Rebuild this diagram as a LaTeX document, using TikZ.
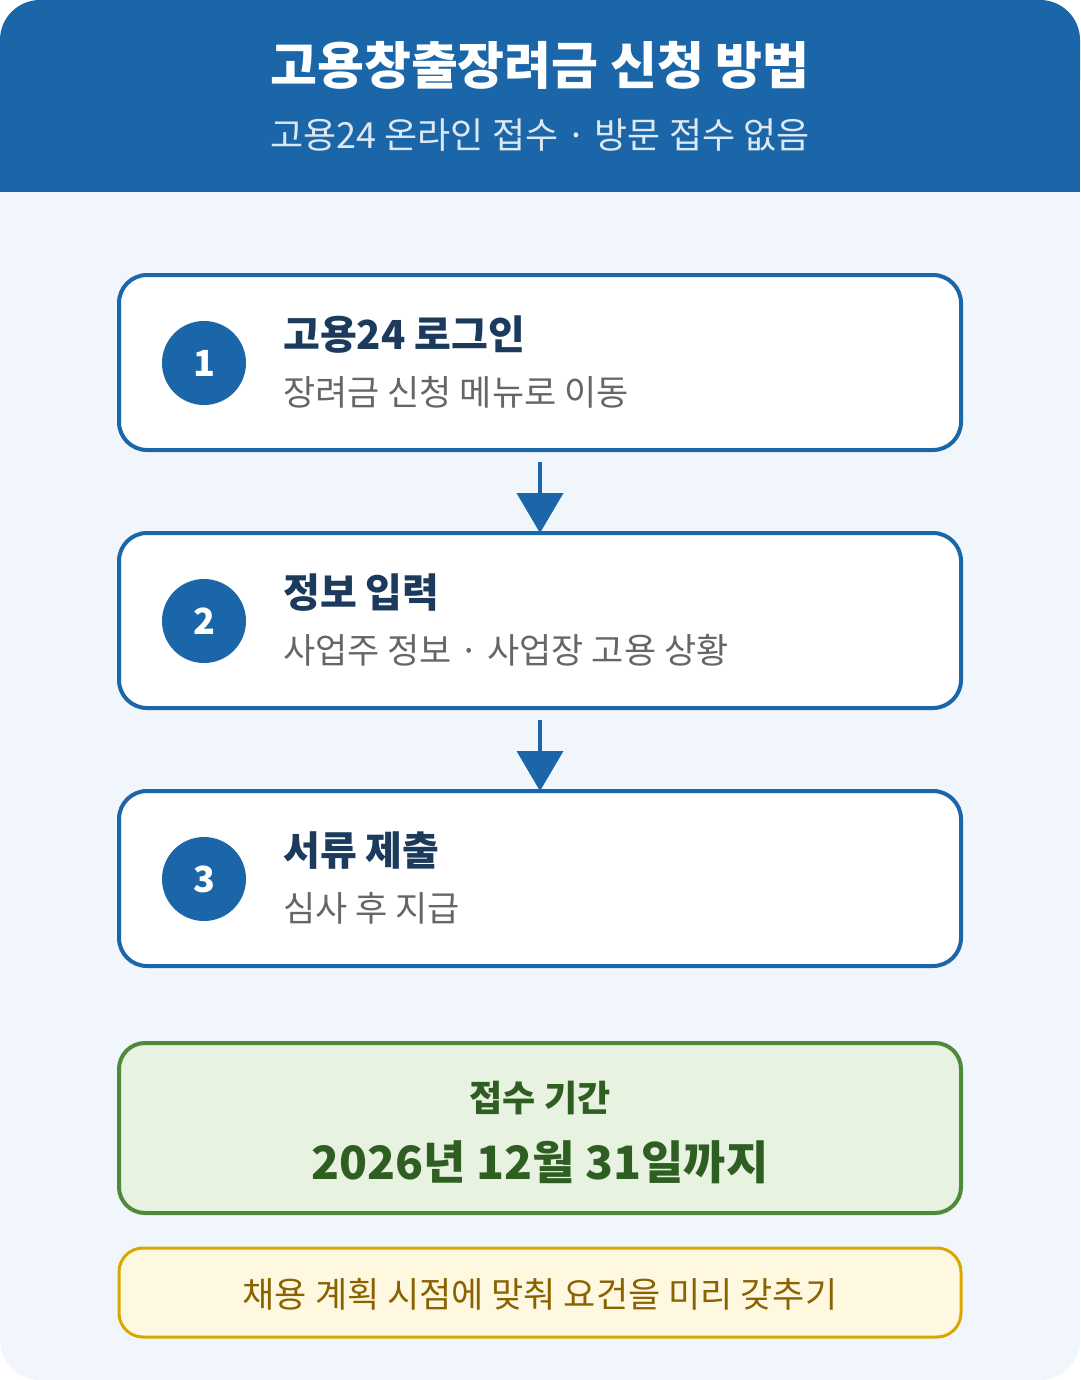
\documentclass[tikz,border=0pt]{standalone}
\usepackage{fontspec}
\setmainfont{Noto Sans CJK KR}
\usetikzlibrary{arrows.meta}
\definecolor{hdr}{HTML}{1A66A8}
\definecolor{bg}{HTML}{F0F6FC}
\definecolor{ttl}{HTML}{1B3A5C}
\definecolor{sub}{HTML}{666666}
\definecolor{gfill}{HTML}{E8F2E0}
\definecolor{gline}{HTML}{4E8A3A}
\definecolor{gtxt}{HTML}{2F5E22}
\definecolor{yfill}{HTML}{FFF8E1}
\definecolor{yline}{HTML}{D9A800}
\definecolor{ytxt}{HTML}{8A6200}
\begin{document}
\begin{tikzpicture}[x=1pt,y=-1pt,
  stepbox/.style={draw=hdr,line width=4pt,fill=white,rounded corners=28pt},
  num/.style={circle,fill=hdr,minimum size=84pt,inner sep=0pt,text=white,font=\fontsize{36}{40}\selectfont\bfseries},
  st/.style={anchor=west,text=ttl,font=\fontsize{40}{44}\selectfont\bfseries,inner sep=0pt},
  ss/.style={anchor=west,text=sub,font=\fontsize{35}{38}\selectfont,inner sep=0pt},
  arr/.style={draw=hdr,line width=4pt,-{Triangle[length=40pt,width=46pt]}}]
\useasboundingbox (0,0) rectangle (1080,1380);
\fill[bg,rounded corners=40pt] (0,0) rectangle (1080,1380);
\fill[hdr,rounded corners=40pt] (0,0) rectangle (1080,120);
\fill[hdr] (0,80) rectangle (1080,192);
\node[text=white,font=\fontsize{51}{56}\selectfont\bfseries] (t) at (540,65) {고용창출장려금 신청 방법};
\node[text=white!85!hdr,font=\fontsize{36}{40}\selectfont] (s) at (540,135) {고용24 온라인 접수 · 방문 접수 없음};
\foreach \i/\y/\a/\b in {1/275/고용24 로그인/장려금 신청 메뉴로 이동, 2/533/정보 입력/사업주 정보 · 사업장 고용 상황, 3/791/서류 제출/심사 후 지급}{
  \draw[stepbox] (119,\y) rectangle (961,\y+175);
  \node[num] (n\i) at (204,\y+88) {\i};
  \node[st] (a\i) at (283,\y+60) {\a};
  \node[ss] (b\i) at (283,\y+117) {\b};
}
\coordinate (p1) at (540,462); \coordinate (q1) at (540,533);
\coordinate (p2) at (540,720); \coordinate (q2) at (540,791);
\draw[arr] (p1) -- (q1);
\draw[arr] (p2) -- (q2);
\draw[fill=gfill,draw=gline,line width=4pt,rounded corners=26pt] (119,1043) rectangle (961,1213);
\node[text=gtxt,font=\fontsize{36}{40}\selectfont\bfseries] (g1) at (540,1098) {접수 기간};
\node[text=gtxt,font=\fontsize{46}{50}\selectfont\bfseries] (g2) at (540,1162) {2026년 12월 31일까지};
\draw[fill=yfill,draw=yline,line width=3pt,rounded corners=24pt] (119,1248) rectangle (961,1337);
\node[text=ytxt,font=\fontsize{35}{38}\selectfont] (y1) at (540,1294) {채용 계획 시점에 맞춰 요건을 미리 갖추기};
\end{tikzpicture}
\end{document}
